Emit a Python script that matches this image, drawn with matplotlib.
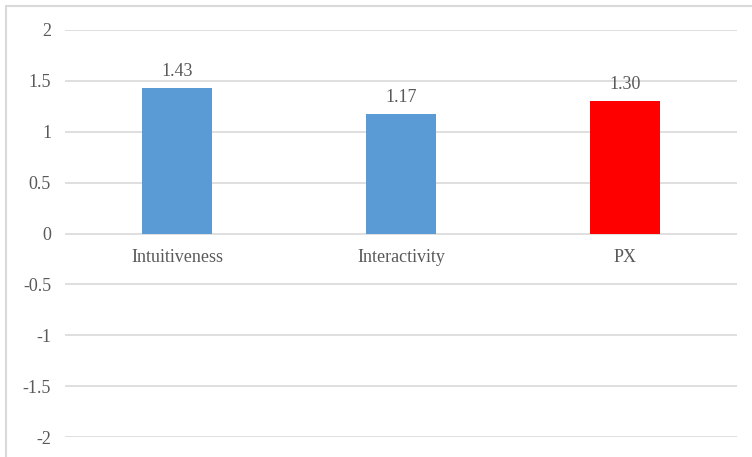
import matplotlib
matplotlib.use("Agg")
import matplotlib.pyplot as plt
from matplotlib.patches import Rectangle

# data
categories = ["Intuitiveness", "Interactivity", "PX"]
values = [1.43, 1.17, 1.30]
bar_colors = ["#5B9BD5", "#5B9BD5", "#FF0000"]
yticks = [-2, -1.5, -1, -0.5, 0, 0.5, 1, 1.5, 2]
ytick_labels = ["-2", "-1.5", "-1", "-0.5", "0", "0.5", "1", "1.5", "2"]

plt.rcParams["font.family"] = ["Liberation Serif", "DejaVu Serif"]
text_color = "#595959"
grid_color = "#D9D9D9"
fs = 13

fig = plt.figure(figsize=(7.52, 4.57), dpi=100)
ax = fig.add_axes([65 / 752, 1 - 437 / 457, (737 - 65) / 752, (437 - 30) / 457])

# chart border (cropped on right and bottom)
fig.patches.append(Rectangle((5.5 / 752, -0.1), 1.2, 1 - 6.5 / 457 + 0.1,
                             transform=fig.transFigure, fill=False,
                             edgecolor=grid_color, linewidth=1.5))

x = list(range(len(categories)))
bars = ax.bar(x, values, width=0.3125, color=bar_colors, zorder=3)

ax.set_xlim(-0.5, len(categories) - 0.5)
ax.set_ylim(-2, 2)
ax.set_yticks(yticks)
ax.set_yticklabels(ytick_labels)
ax.grid(axis="y", color=grid_color, linewidth=1.2, zorder=0)
ax.set_xticks([])
for s in ax.spines.values():
    s.set_visible(False)
ax.tick_params(axis="y", length=0, pad=10, labelsize=fs, labelcolor=text_color)

for xi, v, cat in zip(x, values, categories):
    ax.annotate(f"{v:.2f}", (xi, v), xytext=(0, 6), textcoords="offset points",
                ha="center", va="bottom", fontsize=fs, color=text_color)
    ax.annotate(cat, (xi, 0), xytext=(0, -11), textcoords="offset points",
                ha="center", va="top", fontsize=fs, color=text_color)

fig.savefig("out.png", dpi=100)
